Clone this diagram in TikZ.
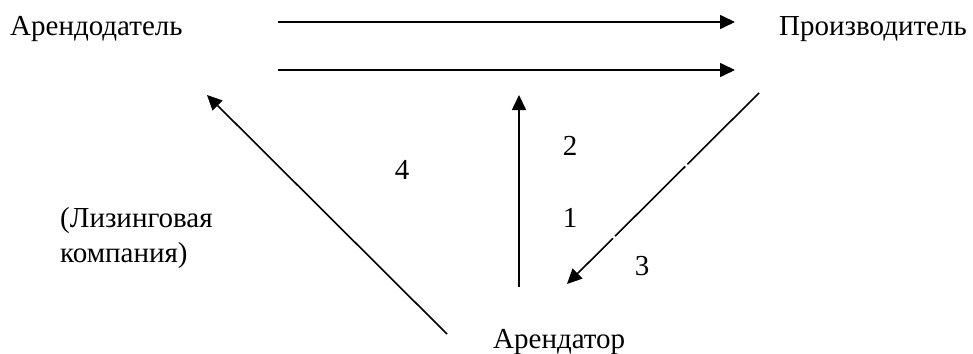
\documentclass[tikz,border=0pt]{standalone}
\usepackage{fontspec}
\setmainfont{Liberation Serif}
\usetikzlibrary{arrows.meta}
\begin{document}
\begin{tikzpicture}[x=1pt,y=-1pt,
  lbl/.style={font=\fontsize{29}{35}\selectfont, inner sep=0pt, align=left},
  arr/.style={line width=1.6pt, -{Triangle[length=15pt,width=14pt]}}]
\useasboundingbox (0,0) rectangle (973,353);
% texts
\node[lbl, anchor=base west] (lessor) at (10,36) {Арендодатель};
\node[lbl, anchor=base west] (maker) at (779,36) {Производитель};
\node[lbl, anchor=base west] (leasing) at (60,262) {(Лизинговая\\компания)};
\node[lbl, anchor=base west] (lessee) at (493,348) {Арендатор};
\node[lbl, anchor=base] (n2) at (570,155) {2};
\node[lbl, anchor=base] (n1) at (570,227) {1};
\node[lbl, anchor=base] (n3) at (642,275) {3};
\node[lbl, anchor=base] (n4) at (402,179) {4};
% arrow ends
\coordinate (t1s) at (278,22);  \coordinate (t1e) at (735,22);
\coordinate (t2s) at (278,70);  \coordinate (t2e) at (735,70);
\coordinate (vs) at (519,287);  \coordinate (ve) at (519,95);
\coordinate (ds) at (759,93);   \coordinate (de) at (567,284);
\coordinate (ls) at (447,334);  \coordinate (le) at (207,95);
% connectors
\draw[arr] (t1s) -- (t1e);
\draw[arr] (t2s) -- (t2e);
\draw[arr] (vs) -- (ve);
\draw[arr, dash pattern=on 101pt off 3pt on 99pt off 3pt on 300pt] (ds) -- (de);
\draw[arr] (ls) -- (le);
\end{tikzpicture}
\end{document}
